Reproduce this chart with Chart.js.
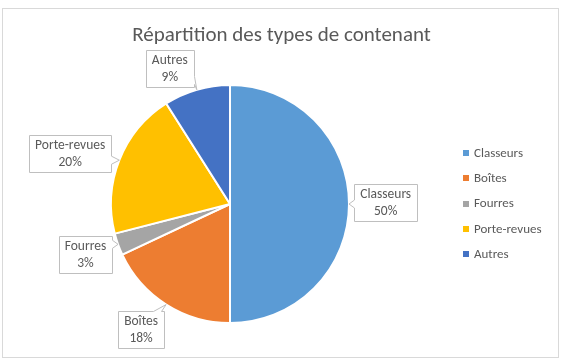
<!DOCTYPE html>
<html><head><meta charset="utf-8">
<script src="https://cdn.jsdelivr.net/npm/chart.js@4"></script>
<style>html,body{margin:0;padding:0;background:#fff}#wrap{width:562px;height:362px;position:relative}</style>
</head><body><div id="wrap"><canvas id="c" width="562" height="362"></canvas></div>
<script>
const titleText = 'Répartition des types de contenant';
const categories = ['Classeurs', 'Boîtes', 'Fourres', 'Porte-revues', 'Autres'];
const values = [50, 18, 3, 20, 9];
const colors = ['#5B9BD5', '#ED7D31', '#A5A5A5', '#FFC000', '#4472C4'];

const FONT = 'Carlito, Calibri, Lato, sans-serif';
const TEXT = '#595959';

// label shifts from default radial placement (px)
const labelShift = [[1, -2], [-6, -5], [1, -2], [-16, 6], [-17, 13]];

function callout(ctx, L, T, w, h, tx, ty) {
  const R = L + w, B = T + h;
  const ex = tx > R ? tx - R : (tx < L ? L - tx : 0);
  const ey = ty > B ? ty - B : (ty < T ? T - ty : 0);
  let side;
  if (ex >= ey) side = tx > R ? 'right' : 'left';
  else side = ty < T ? 'top' : 'bottom';
  const clamp = (v, a, b) => Math.max(a, Math.min(b, v));
  const hw = 4;
  const lim = (ax, ay) => {
    const dx = tx - ax, dy = ty - ay, d = Math.hypot(dx, dy);
    const m = Math.min(d, 11);
    return [ax + dx / d * m, ay + dy / d * m];
  };
  ctx.beginPath();
  ctx.moveTo(L, T);
  if (side === 'top') {
    const px = clamp(tx, L + 7, R - 7);
    const t = lim(px, T);
    ctx.lineTo(px - hw, T); ctx.lineTo(t[0], t[1]); ctx.lineTo(px + hw, T);
  }
  ctx.lineTo(R, T);
  if (side === 'right') {
    const py = clamp(ty, T + 7, B - 7);
    const t = lim(R, py);
    ctx.lineTo(R, py - hw); ctx.lineTo(t[0], t[1]); ctx.lineTo(R, py + hw);
  }
  ctx.lineTo(R, B);
  if (side === 'bottom') {
    const px = clamp(tx, L + 7, R - 7);
    const t = lim(px, B);
    ctx.lineTo(px + hw, B); ctx.lineTo(t[0], t[1]); ctx.lineTo(px - hw, B);
  }
  ctx.lineTo(L, B);
  if (side === 'left') {
    const py = clamp(ty, T + 7, B - 7);
    const t = lim(L, py);
    ctx.lineTo(L, py + hw); ctx.lineTo(t[0], t[1]); ctx.lineTo(L, py - hw);
  }
  ctx.closePath();
  ctx.fillStyle = '#ffffff';
  ctx.fill();
  ctx.strokeStyle = '#bfbfbf';
  ctx.lineWidth = 1;
  ctx.stroke();
}

const decor = {
  id: 'decor',
  beforeDraw(chart) {
    const ctx = chart.ctx;
    ctx.save();
    ctx.fillStyle = '#fff';
    ctx.fillRect(0, 0, chart.width, chart.height);
    ctx.strokeStyle = '#d9d9d9';
    ctx.lineWidth = 1;
    ctx.strokeRect(2.5, 8.5, 556, 349);
    ctx.restore();
  },
  afterDraw(chart) {
    const ctx = chart.ctx;
    ctx.save();
    // title
    ctx.fillStyle = TEXT;
    ctx.font = '21px ' + FONT;
    ctx.textAlign = 'center';
    ctx.textBaseline = 'alphabetic';
    ctx.fillText(titleText, 281.5, 41);

    // legend
    ctx.font = '13px ' + FONT;
    ctx.textAlign = 'left';
    ctx.textBaseline = 'middle';
    const ds = chart.data.datasets[0];
    chart.data.labels.forEach((lab, i) => {
      const y = 153 + i * 25.3;
      ctx.fillStyle = ds.backgroundColor[i];
      ctx.fillRect(463, Math.round(y) - 3, 6, 6);
      ctx.fillStyle = TEXT;
      ctx.fillText(lab, 474, y + 0.5);
    });

    // data labels with callouts
    const meta = chart.getDatasetMeta(0);
    const total = ds.data.reduce((a, b) => a + b, 0);
    meta.data.forEach((arc, i) => {
      const p = arc.getProps(['x', 'y', 'startAngle', 'endAngle', 'outerRadius'], true);
      const mid = (p.startAngle + p.endAngle) / 2;
      const cx = p.x + Math.cos(mid) * p.outerRadius * 1.3 + labelShift[i][0];
      const cy = p.y + Math.sin(mid) * p.outerRadius * 1.3 + labelShift[i][1];
      const tx = p.x + Math.cos(mid) * p.outerRadius;
      const ty = p.y + Math.sin(mid) * p.outerRadius;
      const l1 = chart.data.labels[i];
      const l2 = Math.round(ds.data[i] / total * 100) + '%';
      ctx.font = '13.5px ' + FONT;
      const w = Math.max(ctx.measureText(l1).width, ctx.measureText(l2).width) + 12;
      const h = 37;
      const L = Math.round(cx - w / 2) + 0.5, T = Math.round(cy - h / 2) + 0.5;
      callout(ctx, L, T, Math.round(w), h, tx, ty);
      ctx.fillStyle = TEXT;
      ctx.textAlign = 'center';
      ctx.textBaseline = 'middle';
      ctx.fillText(l1, cx, T + h / 2 - 8);
      ctx.fillText(l2, cx, T + h / 2 + 8.5);
    });
    ctx.restore();
  }
};

new Chart(document.getElementById('c'), {
  type: 'pie',
  data: {
    labels: categories,
    datasets: [{
      data: values,
      backgroundColor: colors,
      borderColor: '#ffffff',
      borderWidth: 2
    }]
  },
  options: {
    responsive: false,
    animation: false,
    devicePixelRatio: 1,
    layout: { padding: { left: 110, right: 212, top: 84, bottom: 38 } },
    plugins: {
      legend: { display: false },
      title: { display: false },
      tooltip: { enabled: false }
    }
  },
  plugins: [decor]
});
</script>
</body></html>
